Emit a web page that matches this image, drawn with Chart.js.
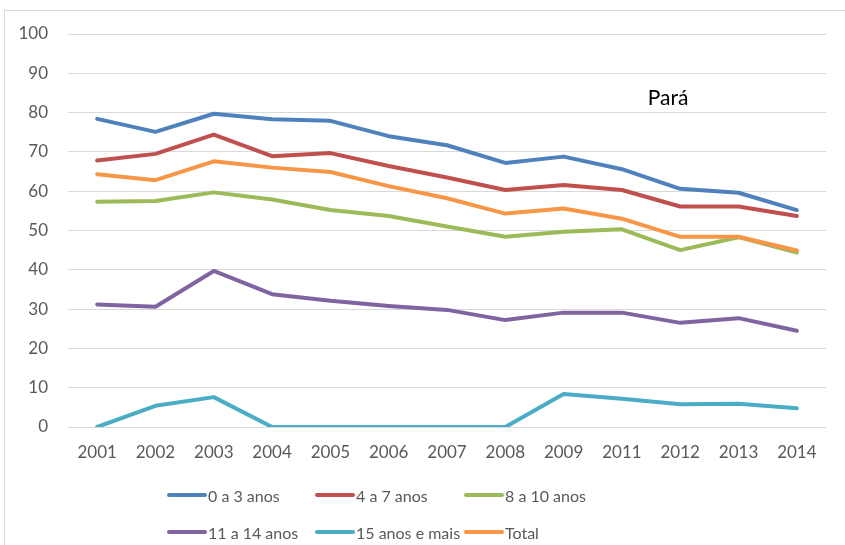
<!DOCTYPE html>
<html>
<head>
<meta charset="utf-8">
<script src="https://cdn.jsdelivr.net/npm/chart.js@4.4.1/dist/chart.umd.min.js"></script>
<style>
    body { margin: 0; background: #fff; overflow: hidden; }
    #wrap { position: relative; width: 845px; height: 545px; overflow: hidden; }
    #frame { position: absolute; left: 4px; top: 10px; width: 900px; height: 600px; border: 1px solid #d9d9d9; }
    #legend { position: absolute; left: 0; top: 0; width: 845px; height: 545px; pointer-events: none; }
    .item { position: absolute; display: flex; align-items: center; font: 16px Lato, sans-serif; color: #595959; height: 20px; }
    .swatch { width: 40px; height: 4px; border-radius: 2px; margin-right: 1px; }
</style>
</head>
<body>
<div id="wrap">
    <div id="frame"></div>
    <canvas id="chart" width="845" height="545"></canvas>
    <div id="legend"></div>
</div>
<script>
const years = ["2001", "2002", "2003", "2004", "2005", "2006", "2007", "2008", "2009", "2011", "2012", "2013", "2014"];
const labels = ["0 a 3 anos", "4 a 7 anos", "8 a 10 anos", "11 a 14 anos", "15 anos e mais", "Total"];
const colors = ["#4f81bd", "#c0504d", "#9bbb59", "#8064a2", "#4bacc6", "#f79646"];

const age0to3 = [78.4, 75.1, 79.7, 78.3, 77.9, 74.0, 71.7, 67.2, 68.8, 65.6, 60.6, 59.6, 55.2];
const age4to7 = [67.8, 69.5, 74.4, 68.9, 69.7, 66.4, 63.5, 60.3, 61.6, 60.3, 56.1, 56.1, 53.7];
const age8to10 = [57.3, 57.5, 59.7, 57.9, 55.2, 53.7, 51.0, 48.4, 49.7, 50.3, 45.0, 48.3, 44.4];
const age11to14 = [31.2, 30.6, 39.7, 33.8, 32.1, 30.8, 29.8, 27.2, 29.1, 29.1, 26.5, 27.7, 24.5];
const age15plus = [0, 5.4, 7.6, 0, 0, 0, 0, 0, 8.4, 7.2, 5.8, 5.9, 4.8];
const total = [64.3, 62.8, 67.6, 66.0, 64.9, 61.3, 58.2, 54.3, 55.6, 53.0, 48.4, 48.4, 44.9];

const series = [age0to3, age4to7, age8to10, age11to14, age15plus, total];
const yTicks = [0, 10, 20, 30, 40, 50, 60, 70, 80, 90, 100];

const tickFont = { family: "Lato, sans-serif", size: 17 };

const stateLabel = {
    id: "stateLabel",
    afterDraw(chart) {
        const ctx = chart.ctx;
        ctx.save();
        ctx.font = "21px Lato, sans-serif";
        ctx.fillStyle = "#000";
        ctx.textAlign = "center";
        ctx.textBaseline = "middle";
        ctx.fillText("Pará", 668, 98);
        ctx.restore();
    }
};

const ctx = document.getElementById("chart").getContext("2d");
const chart = new Chart(ctx, {
    type: "line",
    data: {
        labels: years,
        datasets: series.map((data, i) => ({
            label: labels[i],
            data: data,
            borderColor: colors[i],
            backgroundColor: colors[i],
            borderWidth: 4,
            borderCapStyle: "round",
            borderJoinStyle: "round",
            pointRadius: 0,
            tension: 0,
            order: series.length - i
        }))
    },
    options: {
        responsive: false,
        animation: false,
        layout: { padding: { left: 0, right: 19, top: 34, bottom: 78 } },
        plugins: {
            legend: { display: false },
            tooltip: { enabled: false }
        },
        scales: {
            x: {
                offset: true,
                grid: { display: false, drawTicks: false },
                border: { display: false },
                ticks: { color: "#595959", font: tickFont, padding: 15, maxRotation: 0 },
                afterFit(scale) { scale.height = 40; }
            },
            y: {
                min: 0,
                max: 100,
                afterBuildTicks(scale) { scale.ticks = yTicks.map(v => ({ value: v })); },
                grid: { color: "#d9d9d9", lineWidth: 1, drawTicks: false },
                border: { display: false },
                ticks: { color: "#595959", font: tickFont, padding: 20 },
                afterFit(scale) { scale.width = 68; }
            }
        }
    },
    plugins: [stateLabel]
});

// legend laid out as a 3-column grid like the original
const legend = document.getElementById("legend");
const colX = [167, 315, 464];
const rowY = [495, 532];
labels.forEach((name, i) => {
    const item = document.createElement("div");
    item.className = "item";
    item.style.left = colX[i % 3] + "px";
    item.style.top = (rowY[Math.floor(i / 3)] - 10) + "px";
    const sw = document.createElement("span");
    sw.className = "swatch";
    sw.style.background = colors[i];
    item.appendChild(sw);
    item.appendChild(document.createTextNode(name));
    legend.appendChild(item);
});
</script>
</body>
</html>
